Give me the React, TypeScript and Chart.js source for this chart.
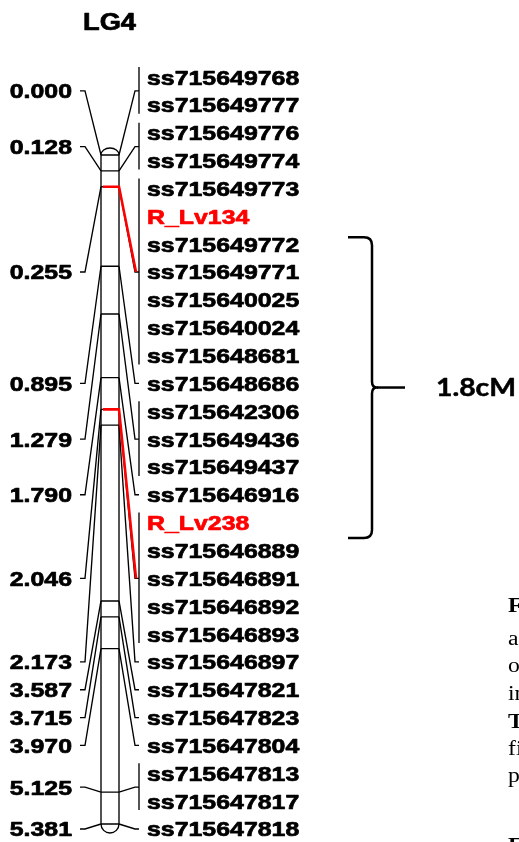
import React, { useEffect, useRef } from "react";
import { Chart, registerables } from "chart.js";

Chart.register(...registerables);

// ---------------- data ----------------
const title = "LG4";
const positions = [0.0, 0.128, 0.255, 0.895, 1.279, 1.79, 2.046, 2.173, 3.587, 3.715, 3.97, 5.125, 5.381];
const positionLabels = ["0.000", "0.128", "0.255", "0.895", "1.279", "1.790", "2.046", "2.173", "3.587", "3.715", "3.970", "5.125", "5.381"];
const markerGroups = [
  ["ss715649768", "ss715649777"],
  ["ss715649776", "ss715649774"],
  ["ss715649773", "R_Lv134", "ss715649772", "ss715649771", "ss715640025", "ss715640024", "ss715648681"],
  ["ss715648686"],
  ["ss715642306", "ss715649436", "ss715649437"],
  ["ss715646916"],
  ["R_Lv238", "ss715646889", "ss715646891", "ss715646892", "ss715646893"],
  ["ss715646897"],
  ["ss715647821"],
  ["ss715647823"],
  ["ss715647804"],
  ["ss715647813", "ss715647817"],
  ["ss715647818"],
];
const qtlMarkers = ["R_Lv134", "R_Lv238"];
const intervalLabel = "1.8cM";
const captionLines = ["Fig", "and", "of", "in", "The", "fi", "p", "F"];
const captionBold = [true, false, false, false, true, false, false, true];

// ---------------- layout / style ----------------
const W = 519;
const H = 842;
const CHROM_L = 101;
const CHROM_R = 119;
const LEFT_STUB = 80;
const LEFT_DIAG = 85;
const RIGHT_DIAG = 135;
const BAR_X = 139;
const LABEL_X = 147;
const POS_LABEL_X = 72;
const SX = 1.185; // horizontal stretch of the original figure
const LABEL_FONT = "bold 21px 'Liberation Sans', Arial, sans-serif";
const RED = "#ff0000";

function stretchedText(
  ctx: CanvasRenderingContext2D,
  text: string,
  x: number,
  baseline: number,
  font: string,
  color: string,
  align: CanvasTextAlign,
  sx: number,
  thicken = 0.7
) {
  ctx.save();
  ctx.translate(x, baseline);
  ctx.scale(sx, 1);
  ctx.font = font;
  ctx.fillStyle = color;
  ctx.strokeStyle = color;
  ctx.lineWidth = thicken;
  ctx.lineJoin = "round";
  ctx.textAlign = align;
  ctx.textBaseline = "alphabetic";
  ctx.fillText(text, 0, 0);
  if (thicken > 0) ctx.strokeText(text, 0, 0);
  ctx.restore();
}

const linkagePlugin = {
  id: "linkageMap",
  afterDraw(chart: any) {
    const ctx: CanvasRenderingContext2D = chart.ctx;
    const X = (v: number) => chart.scales.x.getPixelForValue(v);
    const Y = (v: number) => chart.scales.y.getPixelForValue(v);
    const R = (v: number) => chart.scales.row.getPixelForValue(v);

    ctx.save();
    ctx.fillStyle = "#ffffff";
    ctx.fillRect(0, 0, chart.width, chart.height);

    const groups: { start: number; end: number; mid: number }[] = [];
    let r = 0;
    markerGroups.forEach((g) => {
      groups.push({ start: r, end: r + g.length - 1, mid: r + (g.length - 1) / 2 });
      r += g.length;
    });
    const rowOf = (name: string) => {
      let i = 0;
      for (const g of markerGroups) {
        for (const m of g) {
          if (m === name) return i;
          i++;
        }
      }
      return 0;
    };

    const top = Y(positions[0]);
    const bottom = Y(positions[positions.length - 1]);
    const cx = (X(CHROM_L) + X(CHROM_R)) / 2;
    const rad = (X(CHROM_R) - X(CHROM_L)) / 2;

    ctx.strokeStyle = "#000";
    ctx.lineWidth = 1.35;
    ctx.beginPath();
    ctx.moveTo(X(CHROM_L), top);
    ctx.lineTo(X(CHROM_L), bottom);
    ctx.moveTo(X(CHROM_R), top);
    ctx.lineTo(X(CHROM_R), bottom);
    ctx.stroke();
    ctx.beginPath();
    ctx.ellipse(cx, top, rad, 7, 0, Math.PI, 2 * Math.PI);
    ctx.stroke();
    ctx.beginPath();
    ctx.ellipse(cx, bottom, rad, 9, 0, 0, Math.PI);
    ctx.stroke();

    positions.forEach((p, i) => {
      const yc = Y(p);
      const yr = R(groups[i].mid);
      ctx.beginPath();
      ctx.moveTo(X(CHROM_L), yc);
      ctx.lineTo(X(CHROM_R), yc);
      ctx.moveTo(X(CHROM_L), yc);
      ctx.lineTo(X(LEFT_DIAG), yr);
      ctx.lineTo(X(LEFT_STUB), yr);
      ctx.moveTo(X(CHROM_R), yc);
      ctx.lineTo(X(RIGHT_DIAG), yr);
      ctx.lineTo(X(BAR_X), yr);
      ctx.stroke();
      if (groups[i].end > groups[i].start) {
        ctx.beginPath();
        ctx.moveTo(X(BAR_X), R(groups[i].start) - 10);
        ctx.lineTo(X(BAR_X), R(groups[i].end) + 9);
        ctx.stroke();
      }
    });

    ctx.strokeStyle = RED;
    ctx.lineWidth = 2.6;
    qtlMarkers.forEach((m) => {
      const row = rowOf(m);
      const gi = groups.findIndex((g) => row >= g.start && row <= g.end);
      const yc = Y(positions[gi]);
      const yr = R(groups[gi].mid);
      ctx.beginPath();
      ctx.moveTo(X(CHROM_L) + 2, yc);
      ctx.lineTo(X(CHROM_R), yc);
      ctx.lineTo(X(RIGHT_DIAG) + 1, yr);
      ctx.stroke();
    });

    positionLabels.forEach((lab, i) => {
      const yr = R(groups[i].mid);
      stretchedText(ctx, lab, X(POS_LABEL_X), yr + 7.5, LABEL_FONT, "#000", "right", SX);
    });

    let k = 0;
    markerGroups.forEach((g) => {
      g.forEach((m) => {
        const color = qtlMarkers.includes(m) ? RED : "#000";
        stretchedText(ctx, m, X(LABEL_X), R(k) + 7.5, LABEL_FONT, color, "left", SX);
        k++;
      });
    });

    stretchedText(ctx, title, X(83), 29.5, "bold 23px 'Liberation Sans', Arial, sans-serif", "#000", "left", SX);

    const bTop = R(rowOf(qtlMarkers[0]) + 0.75);
    const bBot = R(rowOf(qtlMarkers[1]) + 0.55);
    const bMid = (bTop + bBot) / 2;
    const x0 = X(348);
    const xv = X(372);
    const xm = X(377);
    const xa = X(405);
    const rr = 8;
    ctx.strokeStyle = "#000";
    ctx.lineWidth = 2.5;
    ctx.lineJoin = "round";
    ctx.beginPath();
    ctx.moveTo(x0, bTop);
    ctx.lineTo(xv - rr, bTop);
    ctx.quadraticCurveTo(xv, bTop, xv, bTop + rr);
    ctx.lineTo(xv, bMid - 6);
    ctx.quadraticCurveTo(xv, bMid, xm, bMid);
    ctx.quadraticCurveTo(xv, bMid, xv, bMid + 6);
    ctx.lineTo(xv, bBot - rr);
    ctx.quadraticCurveTo(xv, bBot, xv - rr, bBot);
    ctx.lineTo(x0, bBot);
    ctx.stroke();
    ctx.beginPath();
    ctx.moveTo(xm, bMid);
    ctx.lineTo(xa, bMid);
    ctx.stroke();

    ctx.save();
    ctx.font = "bold 24px Lato, 'Open Sans', sans-serif";
    const tw = ctx.measureText(intervalLabel).width;
    ctx.restore();
    stretchedText(ctx, intervalLabel, X(436), bMid + 8.5, "bold 24px Lato, 'Open Sans', sans-serif", "#000", "left", 80 / tw, 0.5);

    const capBase = [612, 645, 672, 700, 728, 755, 782, 852];
    captionLines.forEach((t, i) => {
      stretchedText(
        ctx,
        t,
        X(508),
        capBase[i],
        (captionBold[i] ? "bold " : "") + "20px 'Liberation Serif', 'Times New Roman', serif",
        "#000",
        "left",
        SX,
        0
      );
    });

    ctx.restore();
  },
};

export default function App() {
  const canvasRef = useRef<HTMLCanvasElement | null>(null);

  useEffect(() => {
    const canvas = canvasRef.current;
    if (!canvas) return;
    const cmPerPx = 1 / 124.33;
    const rowPerPx = 1 / 27.85;
    const chart = new Chart(canvas, {
      type: "scatter",
      data: {
        datasets: [
          {
            label: "positions",
            data: positions.map((p) => ({ x: (CHROM_L + CHROM_R) / 2, y: p })),
            pointRadius: 0,
            showLine: false,
          },
        ],
      },
      options: {
        animation: false,
        responsive: false,
        devicePixelRatio: 1,
        layout: { padding: 0 },
        events: [],
        plugins: {
          legend: { display: false },
          title: { display: false },
          tooltip: { enabled: false },
        },
        scales: {
          x: { type: "linear", min: 0, max: W, display: false },
          y: {
            type: "linear",
            reverse: true,
            min: -155 * cmPerPx,
            max: (H - 155) * cmPerPx,
            display: false,
          },
          row: {
            type: "linear",
            axis: "y",
            reverse: true,
            min: -77 * rowPerPx,
            max: (H - 77) * rowPerPx,
            display: false,
          },
        },
      },
      plugins: [linkagePlugin],
    } as any);
    return () => chart.destroy();
  }, []);

  return (
    <div style={{ position: "fixed", left: 0, top: 0, width: W, height: H, background: "#fff", overflow: "hidden" }}>
      <canvas ref={canvasRef} width={W} height={H} style={{ display: "block", width: W, height: H }} />
    </div>
  );
}
